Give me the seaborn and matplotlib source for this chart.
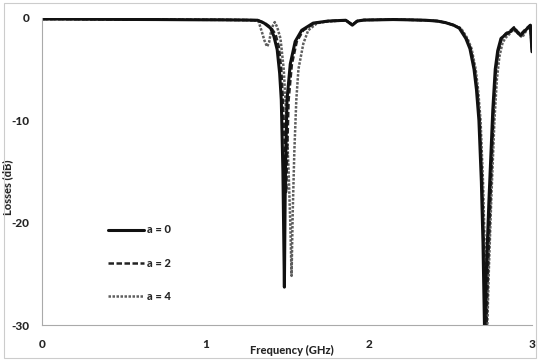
import matplotlib
matplotlib.use("Agg")
import matplotlib.pyplot as plt
import seaborn as sns
import pandas as pd
from matplotlib.patches import Rectangle

sns.set_style("white")
plt.rcParams['font.family'] = ['Lato', 'DejaVu Sans']

# a = 0 (solid)
f0 = [0.00, 0.10, 0.30, 0.50, 0.70, 0.90, 1.10, 1.25, 1.32, 1.36, 1.40, 1.42, 1.44, 1.455, 1.465, 1.475, 1.484,
      1.490, 1.50, 1.52, 1.55, 1.59, 1.66, 1.75, 1.86, 1.90, 1.93, 1.97, 2.05, 2.15, 2.25, 2.35, 2.42, 2.47,
      2.52, 2.555, 2.595, 2.62, 2.645, 2.66, 2.675, 2.69, 2.70, 2.71, 2.72, 2.736, 2.76, 2.775, 2.79, 2.81,
      2.84, 2.87, 2.89, 2.91, 2.93, 2.96, 2.99, 3.00]
l0 = [-0.10, -0.10, -0.12, -0.14, -0.15, -0.17, -0.18, -0.20, -0.22, -0.50, -1.00, -1.80, -3.10, -5.40, -8.00,
      -15.0, -26.3, -15.0, -8.0, -4.5, -2.3, -1.2, -0.5, -0.30, -0.22, -0.70, -0.30, -0.20, -0.18, -0.15, -0.18,
      -0.22, -0.30, -0.45, -0.70, -1.00, -2.00, -3.00, -5.00, -7.0, -10.0, -16.0, -22.0, -31.0, -25.0, -18.0,
      -9.0, -5.0, -3.2, -2.0, -1.6, -1.3, -1.0, -1.4, -1.7, -1.2, -0.7, -3.3]

# a = 2 (dashed)
f2 = [0.00, 0.10, 0.30, 0.50, 0.70, 0.90, 1.10, 1.25, 1.32, 1.36, 1.40, 1.43, 1.45, 1.465, 1.475, 1.485, 1.495,
      1.503, 1.51, 1.53, 1.56, 1.60, 1.67, 1.75, 1.86, 1.90, 1.93, 1.97, 2.05, 2.15, 2.25, 2.35, 2.42, 2.47,
      2.52, 2.56, 2.60, 2.625, 2.65, 2.665, 2.68, 2.695, 2.705, 2.72, 2.73, 2.745, 2.765, 2.78, 2.795, 2.815,
      2.84, 2.87, 2.89, 2.91, 2.93, 2.96, 2.99, 3.00]
l2 = [-0.10, -0.10, -0.12, -0.14, -0.15, -0.17, -0.18, -0.20, -0.22, -0.45, -0.90, -1.60, -2.80, -5.00, -8.00,
      -12.0, -17.0, -12.0, -8.0, -4.5, -2.3, -1.2, -0.5, -0.30, -0.22, -0.65, -0.30, -0.20, -0.18, -0.15, -0.18,
      -0.22, -0.30, -0.45, -0.70, -1.00, -2.00, -3.00, -5.00, -7.0, -10.0, -16.0, -22.0, -31.0, -25.0, -18.0,
      -9.0, -5.0, -3.2, -2.0, -1.5, -1.2, -0.9, -1.3, -1.6, -1.1, -0.7, -3.2]

# a = 4 (dotted)
f4 = [0.00, 0.10, 0.30, 0.50, 0.70, 0.90, 1.10, 1.25, 1.30, 1.325, 1.345, 1.362, 1.378, 1.39, 1.40, 1.412,
      1.425, 1.44, 1.46, 1.48, 1.497, 1.51, 1.52, 1.528, 1.535, 1.545, 1.557, 1.57, 1.60, 1.63, 1.685, 1.75,
      1.86, 1.90, 1.93, 1.97, 2.05, 2.15, 2.25, 2.35, 2.42, 2.47, 2.52, 2.565, 2.605, 2.63, 2.655, 2.67, 2.685,
      2.70, 2.71, 2.725, 2.735, 2.75, 2.77, 2.785, 2.80, 2.82, 2.84, 2.86, 2.88, 2.90, 2.92, 2.94, 2.97,
      2.99, 3.00]
l4 = [-0.10, -0.10, -0.12, -0.14, -0.15, -0.17, -0.18, -0.20, -0.22, -0.30, -1.30, -2.20, -2.80, -2.40, -1.50,
      -0.80, -0.40, -0.90, -2.00, -5.00, -10.0, -15.0, -20.0, -25.2, -19.0, -13.0, -8.0, -5.0, -2.5, -1.2,
      -0.5, -0.35, -0.22, -0.65, -0.30, -0.20, -0.18, -0.15, -0.18, -0.22, -0.30, -0.45, -0.70, -1.00, -2.00,
      -3.00, -5.00, -7.0, -10.0, -16.0, -22.0, -31.0, -25.0, -18.0, -10.0, -6.0, -3.8, -2.4, -1.9, -1.6, -1.2,
      -1.3, -1.6, -1.9, -1.1, -0.8, -3.0]

labels = ["a = 0", "a = 2", "a = 4"]

fig = plt.figure(figsize=(5.40, 3.61), dpi=100)
ax = fig.add_axes([42/540, 1 - 325/361, (532 - 42)/540, (325 - 18)/361])

df0 = pd.DataFrame({"f": f0, "l": l0})
df2 = pd.DataFrame({"f": f2, "l": l2})
df4 = pd.DataFrame({"f": f4, "l": l4})

sns.lineplot(data=df4, x="f", y="l", ax=ax, color="#5e5e5e", linewidth=1.8,
             linestyle=(0, (1, 0.6)), label=labels[2], sort=False)
sns.lineplot(data=df2, x="f", y="l", ax=ax, color="#222222", linewidth=1.8,
             linestyle=(0, (2.2, 1.0)), label=labels[1], sort=False)
sns.lineplot(data=df0, x="f", y="l", ax=ax, color="#111111", linewidth=2.2,
             linestyle="-", label=labels[0], sort=False)

ax.set_xlim(0, 3)
ax.set_ylim(-30, 0)
ax.set_xticks([0, 1, 2, 3])
ax.set_yticks([0, -10, -20, -30])
ax.set_xticklabels(["0", "1", "2", "3"], fontweight="black", fontsize=8.5)
ax.set_yticklabels(["0", "-10", "-20", "-30"], fontweight="black", fontsize=8.5)
ax.tick_params(axis="x", direction="out", length=3, width=0.6, color="#999999", pad=7)
ax.tick_params(axis="y", direction="out", length=3, width=0.6, color="#999999", pad=6)

for s in ["top", "right"]:
    ax.spines[s].set_visible(False)
for s in ["left", "bottom"]:
    ax.spines[s].set_color("#aaaaaa")
    ax.spines[s].set_linewidth(0.8)

ax.set_xlabel("Frequency (GHz)", fontweight="black", fontsize=8)
ax.set_ylabel("Losses (dB)", fontweight="black", fontsize=8)
ax.yaxis.set_label_coords(-0.058, 0.45)
ax.xaxis.set_label_coords(0.51, -0.065)

handles, labs = ax.get_legend_handles_labels()
order = [labs.index(l) for l in labels]
leg = ax.legend([handles[i] for i in order], [labs[i] for i in order],
                loc="upper left", bbox_to_anchor=(0.115, 0.36), frameon=False,
                handlelength=3.2, handletextpad=0.3, labelspacing=2.0,
                prop={"weight": "black", "size": 8})

fig.patches.append(Rectangle((0.008, 0.008), 0.984, 0.984, transform=fig.transFigure,
                             fill=False, edgecolor="#cccccc", linewidth=0.8))

fig.savefig("out.png", dpi=100)
